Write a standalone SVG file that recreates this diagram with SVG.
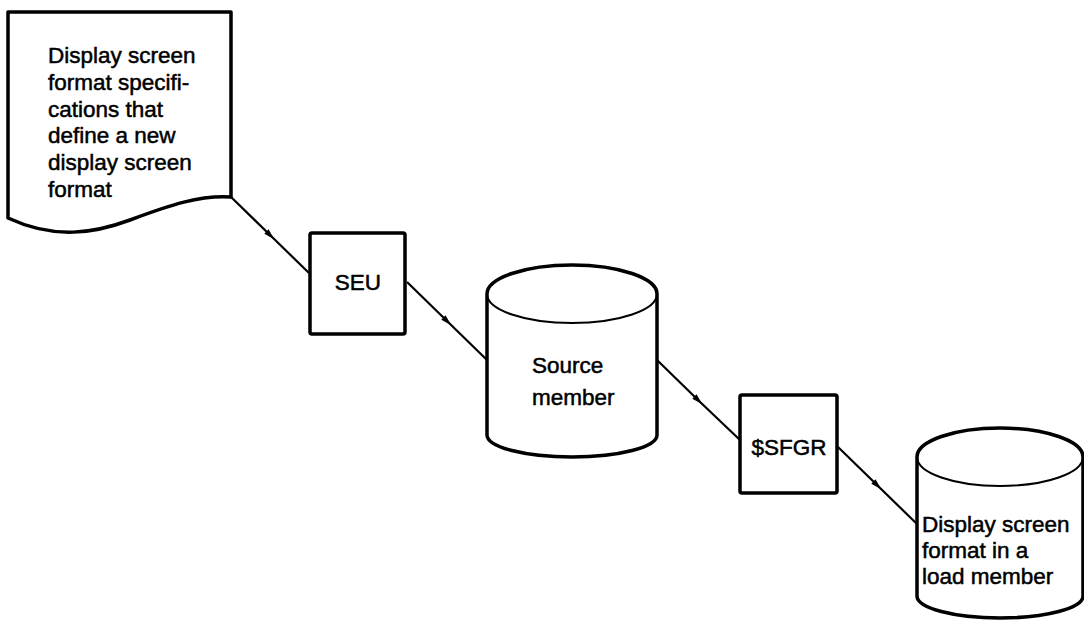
<svg xmlns="http://www.w3.org/2000/svg" width="1084" height="622" viewBox="0 0 1084 622">
<style>
.shape{fill:#fff;stroke:#000;stroke-width:3.5;stroke-linejoin:round}
.line{fill:none;stroke:#000;stroke-width:2.2;marker-mid:url(#arr)}
.t{font-family:"Liberation Sans",Arial,sans-serif;font-size:22.5px;fill:#000;stroke:#000;stroke-width:0.5}
</style>
<defs>
<marker id="arr" markerWidth="12" markerHeight="8" refX="5" refY="4" orient="auto" markerUnits="userSpaceOnUse" viewBox="0 0 12 8">
<path d="M0,1 L11,4 L0,7 z" fill="#000"/>
</marker>
</defs>
<rect width="1084" height="622" fill="#fff"/>
<g id="connectors">
<path class="line" d="M231,197 L270,235 L309,273"/>
<path class="line" d="M407,282 L447,321 L487,360"/>
<path class="line" d="M657,360 L698,400 L740,440"/>
<path class="line" d="M838,447 L877,485 L917,524"/>
</g>
<g id="doc">
<path class="shape" d="M8,12 L231,12 L231,197 C200,195 170,205 130,220 C95,233 55,240 8,218 Z"/>
<text class="t" x="48" y="63">Display screen</text>
<text class="t" x="48" y="90">format specifi-</text>
<text class="t" x="48" y="117">cations that</text>
<text class="t" x="48" y="143">define a new</text>
<text class="t" x="48" y="170">display screen</text>
<text class="t" x="48" y="197">format</text>
</g>
<g id="seu">
<rect class="shape" x="310" y="233" width="95" height="101" rx="2"/>
<text class="t" x="358" y="290" text-anchor="middle">SEU</text>
</g>
<g id="source">
<path class="shape" d="M487,294 A85,29 0 0 1 657,294 L657,435 A85,22 0 0 1 487,435 Z"/>
<path d="M487,294 A85,29 0 0 0 657,294" fill="none" stroke="#000" stroke-width="2"/>
<text class="t" x="532" y="373">Source</text>
<text class="t" x="532" y="405">member</text>
</g>
<g id="sfgr">
<rect class="shape" x="740" y="395" width="97" height="98" rx="2"/>
<text class="t" x="789" y="455" text-anchor="middle">$SFGR</text>
</g>
<g id="load">
<path class="shape" d="M917,457 A83,29 0 0 1 1083,457 L1083,596 A83,22 0 0 1 917,596 Z"/>
<path d="M917,457 A83,29 0 0 0 1083,457" fill="none" stroke="#000" stroke-width="2"/>
<text class="t" x="922" y="532">Display screen</text>
<text class="t" x="922" y="558">format in a</text>
<text class="t" x="922" y="584">load member</text>
</g>
</svg>
